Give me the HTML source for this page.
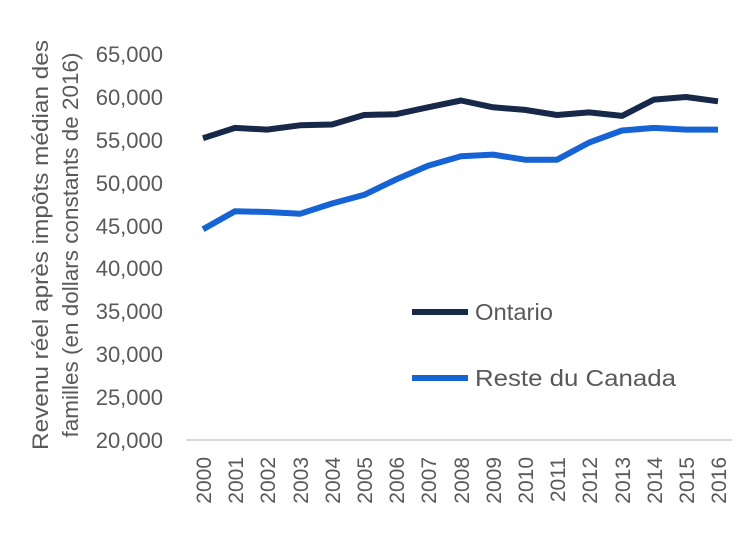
<!DOCTYPE html>
<html><head><meta charset="utf-8"><style>body{margin:0;background:#fff}svg{display:block}text{font-family:"Liberation Sans",sans-serif;fill:#595959}</style></head>
<body>
<svg width="750" height="534" viewBox="0 0 750 534">
<g font-size="22" text-anchor="end">
<text x="163" y="62">65,000</text>
<text x="163" y="105">60,000</text>
<text x="163" y="148">55,000</text>
<text x="163" y="191">50,000</text>
<text x="163" y="234">45,000</text>
<text x="163" y="276">40,000</text>
<text x="163" y="319">35,000</text>
<text x="163" y="362">30,000</text>
<text x="163" y="405">25,000</text>
<text x="163" y="448">20,000</text>
</g>
<line x1="186" y1="440" x2="732" y2="440" stroke="#d9d9d9" stroke-width="2"/>
<g font-size="21" text-anchor="end">
<text transform="translate(211,457) rotate(-90)">2000</text>
<text transform="translate(243,457) rotate(-90)">2001</text>
<text transform="translate(275,457) rotate(-90)">2002</text>
<text transform="translate(308,457) rotate(-90)">2003</text>
<text transform="translate(340,457) rotate(-90)">2004</text>
<text transform="translate(372,457) rotate(-90)">2005</text>
<text transform="translate(404,457) rotate(-90)">2006</text>
<text transform="translate(436,457) rotate(-90)">2007</text>
<text transform="translate(469,457) rotate(-90)">2008</text>
<text transform="translate(501,457) rotate(-90)">2009</text>
<text transform="translate(533,457) rotate(-90)">2010</text>
<text transform="translate(565,457) rotate(-90)">2011</text>
<text transform="translate(597,457) rotate(-90)">2012</text>
<text transform="translate(630,457) rotate(-90)">2013</text>
<text transform="translate(662,457) rotate(-90)">2014</text>
<text transform="translate(694,457) rotate(-90)">2015</text>
<text transform="translate(726,457) rotate(-90)">2016</text>
</g>
<g font-size="22" text-anchor="middle">
<text transform="translate(48,245) rotate(-90)" textLength="410" lengthAdjust="spacingAndGlyphs">Revenu réel après impôts médian des</text>
<text transform="translate(78,245) rotate(-90)" textLength="385" lengthAdjust="spacingAndGlyphs">familles (en dollars constants de 2016)</text>
</g>
<polyline fill="none" stroke="#172848" stroke-width="6" stroke-linejoin="round" points="203,138.2 235,127.9 267,129.6 300,125.3 332,124.5 364,115.0 396,114.2 428,107.3 461,100.5 493,107.3 525,109.9 557,115.0 589,112.4 622,115.9 654,99.6 686,97.0 718,101.3"/>
<polyline fill="none" stroke="#1563d4" stroke-width="6" stroke-linejoin="round" points="203,229.2 235,211.2 267,212.0 300,213.8 332,203.5 364,194.9 396,179.5 428,165.7 461,156.3 493,154.6 525,159.7 557,159.7 589,142.6 622,130.5 654,127.9 686,129.6 718,129.6"/>
<line x1="412" y1="312" x2="468" y2="312" stroke="#172848" stroke-width="6"/>
<text x="475" y="320" font-size="23" textLength="78" lengthAdjust="spacingAndGlyphs">Ontario</text>
<line x1="412" y1="378" x2="468" y2="378" stroke="#1563d4" stroke-width="6"/>
<text x="475" y="386" font-size="23" textLength="201" lengthAdjust="spacingAndGlyphs">Reste du Canada</text>
</svg>
</body></html>
